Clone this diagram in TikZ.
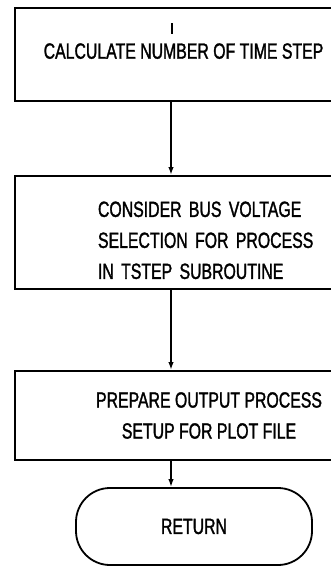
\documentclass[tikz,border=0pt]{standalone}
\usepackage{fontspec}
\setmainfont{Liberation Sans}[FakeStretch=0.72, FakeBold=1.4]
\usetikzlibrary{arrows.meta, positioning}

\begin{document}
\begin{tikzpicture}[
x=1pt, y=-1pt,
every node/.style={font=\fontsize{22}{31}\selectfont},
box/.style={draw, rectangle, line width=2pt, anchor=north west},
terminal/.style={draw, rectangle, rounded corners=34pt, line width=1.8pt, minimum width=236pt, minimum height=77pt},
arrow/.style={-{Latex[length=8pt,width=5.5pt]}, line width=2pt}
]

\clip (0,0) rectangle (331,568);

\node[box, minimum width=337pt, minimum height=93pt, text depth=7pt] (calc) at (14,7) {CALCULATE NUMBER OF TIME STEP};
\node[box, minimum height=113pt, text width=220pt, inner xsep=83pt, align=left] (consider) at (14,175) {\rule{0pt}{31pt}CONSIDER BUS VOLTAGE\\SELECTION FOR PROCESS\\IN TSTEP SUBROUTINE};
\node[box, minimum width=388pt, minimum height=89pt, align=center] (prepare) at (14,370) {PREPARE OUTPUT PROCESS\\SETUP FOR PLOT FILE};
\node[terminal] (return) at (194,526.5) {RETURN\hspace{16pt}};

\coordinate (stem) at (171,0);
\coordinate (tick) at (172,23);
\draw[line width=1.6pt] (tick) -- ++(0,11);

\draw[arrow] (calc.south -| stem) -- (consider.north -| stem);
\draw[arrow] (consider.south -| stem) -- (prepare.north -| stem);
\draw[arrow] (prepare.south -| stem) -- (return.north -| stem);

\end{tikzpicture}
\end{document}
